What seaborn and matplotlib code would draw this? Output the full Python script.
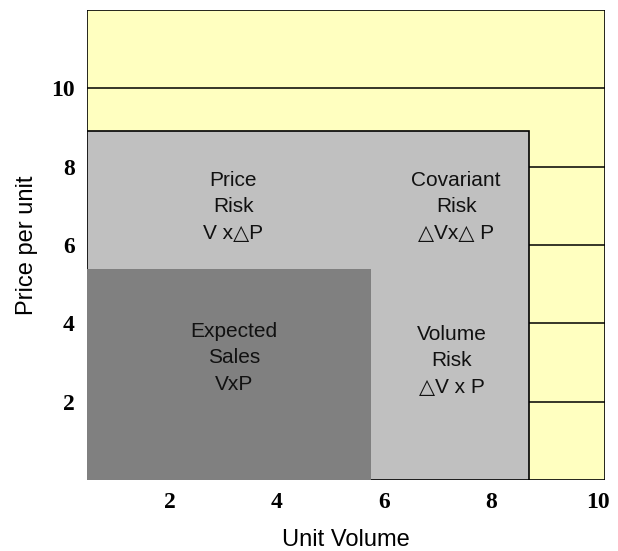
import matplotlib
matplotlib.use("Agg")
import matplotlib.pyplot as plt
import seaborn as sns

# regions (left edge shared), drawn back to front
region_names = ["Total", "Risk", "Expected Sales"]
region_right = [10.13, 8.71, 5.76]
region_top = [12.0, 8.9, 5.4]
region_colors = ["#FFFFC0", "#C0C0C0", "#808080"]
x_left = 0.45

# horizontal grid lines in the yellow band
side_levels = [2, 4, 6, 8]
full_level = 10

xticks = [2, 4, 6, 8, 10]
yticks = [2, 4, 6, 8, 10]

box_text = ["Price\nRisk\nV x\u25b3P", "Covariant\nRisk\n\u25b3Vx\u25b3 P",
            "Expected\nSales\nVxP", "Volume\nRisk\n\u25b3V x P"]
box_x = [3.18, 7.35, 3.2, 7.27]
box_y = [6.98, 6.98, 3.12, 3.04]

sns.set_theme(style="white")
plt.rcParams['font.family'] = ['Liberation Sans', 'DejaVu Sans']

fig = plt.figure(figsize=(6.18, 5.51), dpi=100)
ax = fig.add_axes([87 / 618, 1 - 480 / 551, 518 / 618, 470 / 551])

for i, name in enumerate(region_names):
    ec = "black" if name != "Expected Sales" else "none"
    ax.bar(x_left, region_top[i], width=region_right[i] - x_left, align="edge",
           color=region_colors[i], edgecolor=ec, linewidth=1.2, zorder=i + 1)

ax.hlines(side_levels, region_right[1], region_right[0], color="black",
          linewidth=1.1, zorder=4)
ax.hlines([full_level], x_left, region_right[0], color="black",
          linewidth=1.1, zorder=4)

for t, x, y in zip(box_text, box_x, box_y):
    ax.text(x, y, t, ha="center", va="center", fontsize=15, linespacing=1.5,
            color="#111111", zorder=5)

ax.set_xlim(x_left, region_right[0])
ax.set_ylim(0, 12)
ax.set_xticks(xticks)
ax.set_yticks(yticks)
ax.set_xticklabels([str(v) for v in xticks], fontfamily="Liberation Serif",
                   fontweight="bold", fontsize=17)
ax.set_yticklabels([str(v) for v in yticks], fontfamily="Liberation Serif",
                   fontweight="bold", fontsize=17)
ax.tick_params(axis="both", length=0, pad=9, colors="black")
for s in ax.spines.values():
    s.set_visible(False)

ax.set_xlabel("Unit Volume", fontsize=17, labelpad=11, color="black")
ax.set_ylabel("Price per unit", fontsize=17, labelpad=9, color="black")

fig.savefig("out.png", dpi=100)
